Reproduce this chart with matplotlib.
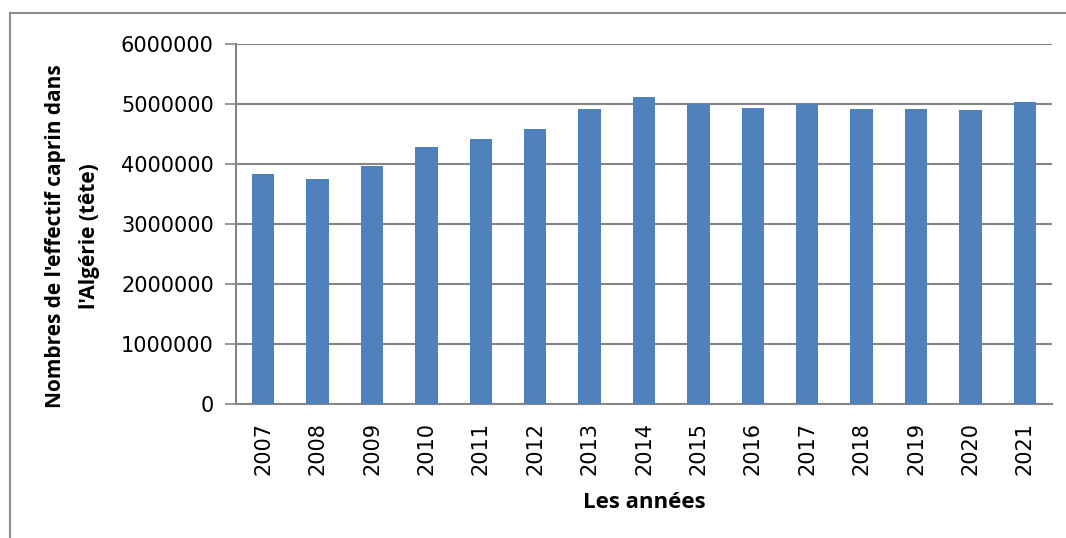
import matplotlib
matplotlib.use('Agg')
import matplotlib.pyplot as plt
from matplotlib.patches import Rectangle

years = ['2007', '2008', '2009', '2010', '2011', '2012', '2013', '2014',
         '2015', '2016', '2017', '2018', '2019', '2020', '2021']
effectif = [3833000, 3750000, 3960000, 4280000, 4410000, 4590000, 4910000, 5120000,
            5000000, 4930000, 5005000, 4910000, 4920000, 4900000, 5030000]
yticks = [0, 1000000, 2000000, 3000000, 4000000, 5000000, 6000000]

W, H = 1066, 538
fig = plt.figure(figsize=(W / 100, H / 100), dpi=100)
ax = fig.add_axes([236 / W, 1 - 404 / H, (1052 - 236) / W, (404 - 44) / H])

# outer chart frame (right and bottom edges run off the picture)
fig.patches.append(Rectangle((10 / W, -0.05), 1.1, 1.05 - 13 / H,
                             transform=fig.transFigure, fill=False,
                             edgecolor='#8c8c8c', linewidth=1.5))

x = range(len(years))
ax.bar(x, effectif, width=0.41, color='#4F81BD', zorder=3)

ax.set_ylim(0, 6000000)
ax.set_xlim(-0.5, len(years) - 0.5)
ax.set_yticks(yticks)
ax.set_yticklabels([str(v) for v in yticks], fontsize=15, family='DejaVu Sans')
ax.set_xticks(list(x))
ax.set_xticklabels(years, rotation=90, fontsize=15, family='DejaVu Sans')
ax.tick_params(axis='x', length=0, pad=13)
ax.tick_params(axis='y', length=8, width=1.2, color='#868686', pad=8)

ax.grid(axis='y', color='#868686', linewidth=1.5, zorder=0)
for s in ['top', 'right']:
    ax.spines[s].set_visible(False)
for s in ['left', 'bottom']:
    ax.spines[s].set_color('#868686')
    ax.spines[s].set_linewidth(1.5)

ax.set_xlabel('Les années', fontsize=16, fontweight='bold', family='Open Sans')
ax.xaxis.set_label_coords(0.5, (404 - 492) / 360)
ax.set_ylabel("Nombres de l'effectif caprin dans\nl'Algérie (tête)", fontsize=15,
              fontweight='bold', family='Open Sans', linespacing=1.8)
ax.yaxis.set_label_coords((100 - 236) / 816, (404 - 236) / 360)

fig.savefig('out.png', dpi=100)
